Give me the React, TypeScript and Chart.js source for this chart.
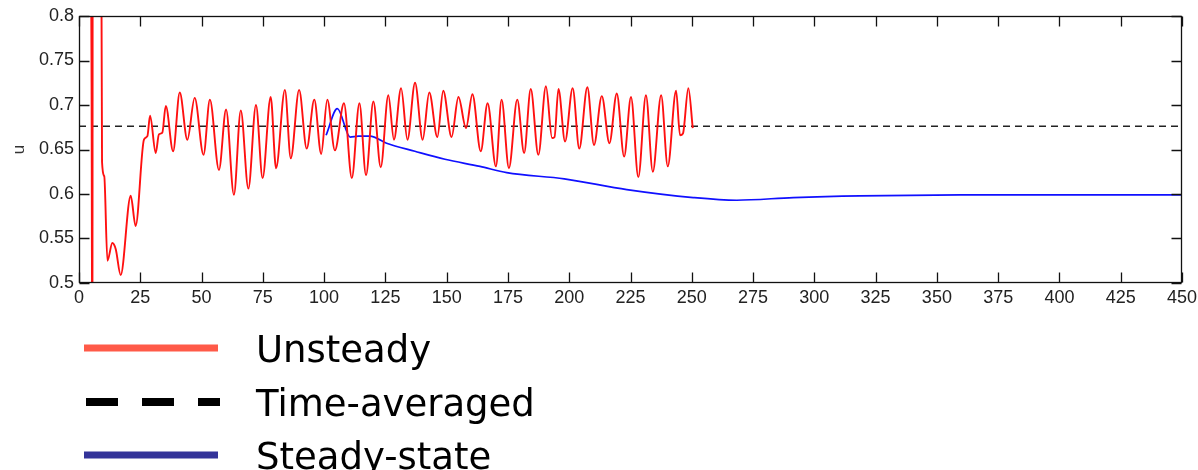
import React, { useEffect, useRef } from "react";
import { Chart, registerables } from "chart.js";

Chart.register(...registerables);

// ---- data ----
const unsteadyT = [
  4.2, 5.1, 5.5, 5.6, 8.7, 9.4, 10.3, 11.6, 13.6, 15.0, 17.0, 21.1, 23.1, 26.5, 27.9, 29.0,
  31.3, 32.6, 34.0, 35.4, 38.4, 41.1, 44.2, 47.2, 50.8, 53.4, 57.1, 60.0, 63.2, 66.0,
  69.1, 72.2, 74.9, 78.2, 80.4, 84.0, 86.4, 89.8, 92.9, 96.0, 98.8, 101.3, 104.4, 108.1,
  111.3, 114.4, 117.1, 120.1, 123.1, 126.2, 128.5, 131.4, 134.0, 137.1, 140.2, 142.9,
  146.2, 148.6, 152.0, 154.8, 157.9, 160.5, 163.9, 166.7, 170.1, 172.4, 175.4, 178.8,
  181.6, 184.3, 187.4, 190.5, 193.0, 194.0, 195.6, 198.3, 201.4, 204.1, 207.4, 210.1,
  213.3, 216.4, 219.4, 222.4, 225.2, 228.2, 231.3, 234.1, 237.5, 240.2, 243.6, 245.2,
  246.4, 248.6, 250.4,
];
const unsteadyU = [
  1.0, 0.75, 0.3, 1.2, 1.2, 0.636, 0.62, 0.525, 0.545, 0.538, 0.509, 0.598, 0.564, 0.661, 0.665, 0.688,
  0.646, 0.667, 0.669, 0.699, 0.648, 0.714, 0.661, 0.708, 0.644, 0.706, 0.627, 0.695, 0.599, 0.694,
  0.606, 0.7, 0.618, 0.709, 0.629, 0.717, 0.64, 0.717, 0.651, 0.706, 0.645, 0.706, 0.649, 0.702,
  0.618, 0.702, 0.621, 0.704, 0.63, 0.711, 0.661, 0.719, 0.661, 0.725, 0.661, 0.714,
  0.664, 0.716, 0.664, 0.709, 0.674, 0.712, 0.648, 0.702, 0.631, 0.706, 0.629, 0.706,
  0.646, 0.718, 0.644, 0.721, 0.663, 0.664, 0.718, 0.659, 0.719, 0.651, 0.72, 0.655,
  0.71, 0.657, 0.713, 0.642, 0.709, 0.619, 0.711, 0.625, 0.711, 0.631, 0.716, 0.666,
  0.668, 0.719, 0.674,
];

const steadyT = [100.8, 105.4, 110.6, 114, 118.7, 125.5, 137, 149.3, 163.6, 174.5, 198, 223.5, 250.6, 268.3, 291.4, 318.6, 359.5, 400, 450];
const steadyU = [0.666, 0.696, 0.664, 0.665, 0.665, 0.657, 0.648, 0.639, 0.631, 0.624, 0.617, 0.605, 0.596, 0.593, 0.596, 0.598, 0.599, 0.599, 0.599];

const averageT = [0, 450];
const averageU = [0.676, 0.676];

const xTicks = [0, 25, 50, 75, 100, 125, 150, 175, 200, 225, 250, 275, 300, 325, 350, 375, 400, 425, 450];
const xTickLabels = ["0", "25", "50", "75", "100", "125", "150", "175", "200", "225", "250", "275", "300", "325", "350", "375", "400", "425", "450"];
const yTicks = [0.5, 0.55, 0.6, 0.65, 0.7, 0.75, 0.8];
const yTickLabels = ["0.5", "0.55", "0.6", "0.65", "0.7", "0.75", "0.8"];

const legendLabels = ["Unsteady", "Time-averaged", "Steady-state"];
const legendColors = ["#ff5a48", "#000000", "#333399"];

const zip = (t: number[], u: number[]) => t.map((x, i) => ({ x, y: u[i] }));

const framePlugin = {
  id: "frame",
  afterDatasetsDraw(chart: any) {
    const { ctx, chartArea, scales } = chart;
    const L = Math.round(chartArea.left) + 0.5;
    const R = Math.round(chartArea.right) - 0.5;
    const T = Math.round(chartArea.top) + 0.5;
    const B = Math.round(chartArea.bottom) - 0.5;
    const len = 10;
    ctx.save();
    ctx.strokeStyle = "#111";
    ctx.lineWidth = 1.3;
    ctx.setLineDash([]);
    ctx.strokeRect(L, T, R - L, B - T);
    ctx.beginPath();
    for (const v of xTicks) {
      const px = Math.round(scales.x.getPixelForValue(v)) + 0.5;
      ctx.moveTo(px, B);
      ctx.lineTo(px, B - len);
      ctx.moveTo(px, T);
      ctx.lineTo(px, T + len);
    }
    for (const v of yTicks) {
      const py = Math.round(scales.y.getPixelForValue(v)) + 0.5;
      ctx.moveTo(L, py);
      ctx.lineTo(L + len, py);
      ctx.moveTo(R, py);
      ctx.lineTo(R - len, py);
    }
    ctx.stroke();
    ctx.restore();
  },
};

const legendPlugin = {
  id: "bigLegend",
  afterDraw(chart: any) {
    const { ctx } = chart;
    const rows = [348, 402, 455];
    ctx.save();
    legendLabels.forEach((label, i) => {
      const y = rows[i];
      ctx.beginPath();
      ctx.strokeStyle = legendColors[i];
      ctx.lineCap = "butt";
      if (i === 1) {
        ctx.lineWidth = 8;
        ctx.setLineDash([32, 24]);
        ctx.moveTo(86, y);
        ctx.lineTo(220, y);
      } else {
        ctx.lineWidth = 7;
        ctx.setLineDash([]);
        ctx.moveTo(84, y);
        ctx.lineTo(218, y);
      }
      ctx.stroke();
      ctx.setLineDash([]);
      ctx.fillStyle = "#000";
      ctx.font = "37px 'DejaVu Sans', sans-serif";
      ctx.textAlign = "left";
      ctx.textBaseline = "alphabetic";
      ctx.fillText(label, 256, y + 14);
    });
    ctx.restore();
  },
};

export default function App() {
  const ref = useRef<HTMLCanvasElement | null>(null);
  useEffect(() => {
    document.body.style.margin = "0";
    const canvas = ref.current;
    if (!canvas) return;
    Chart.defaults.font.family = "'Liberation Sans', Arial, sans-serif";
    Chart.defaults.color = "#222";
    const chart = new Chart(canvas, {
      type: "line",
      data: {
        datasets: [
          {
            label: legendLabels[0],
            data: zip(unsteadyT, unsteadyU),
            borderColor: "#ff1010",
            borderWidth: 1.9,
            pointRadius: 0,
            cubicInterpolationMode: "monotone",
            clip: 0,
            fill: false,
          },
          {
            label: legendLabels[1],
            data: zip(averageT, averageU),
            borderColor: "#222222",
            borderWidth: 1.5,
            borderDash: [7, 5],
            pointRadius: 0,
            clip: 0,
            fill: false,
          },
          {
            label: legendLabels[2],
            data: zip(steadyT, steadyU),
            borderColor: "#1010ff",
            borderWidth: 1.7,
            pointRadius: 0,
            cubicInterpolationMode: "monotone",
            clip: 0,
            fill: false,
          },
        ],
      },
      options: {
        responsive: false,
        animation: false,
        devicePixelRatio: 1,
        layout: { padding: { left: 0, right: 0, top: 16, bottom: 157 } },
        plugins: { legend: { display: false }, tooltip: { enabled: false } },
        scales: {
          x: {
            type: "linear",
            min: 0,
            max: 450,
            grid: { display: false, drawTicks: false },
            border: { display: false },
            afterBuildTicks: (s: any) => {
              s.ticks = xTicks.map((v) => ({ value: v }));
            },
            afterFit: (s: any) => {
              s.height = 30;
              s.paddingRight = 16;
            },
            ticks: {
              autoSkip: false,
              maxRotation: 0,
              padding: 4,
              font: { size: 18 },
              callback: (_v: any, i: number) => xTickLabels[i],
            },
          },
          y: {
            type: "linear",
            min: 0.5,
            max: 0.8,
            grid: { display: false, drawTicks: false },
            border: { display: false },
            afterBuildTicks: (s: any) => {
              s.ticks = yTicks.map((v) => ({ value: v }));
            },
            afterFit: (s: any) => {
              s.width = 79;
            },
            title: {
              display: true,
              text: "u",
              font: { size: 17 },
              color: "#333",
              padding: { top: 9, bottom: 0 },
            },
            ticks: {
              autoSkip: false,
              padding: 5,
              font: { size: 18 },
              callback: (_v: any, i: number) => yTickLabels[i],
            },
          },
        },
      },
      plugins: [framePlugin, legendPlugin],
    });
    return () => chart.destroy();
  }, []);
  return (
    <div style={{ width: 1198, height: 470 }}>
      <canvas ref={ref} width={1198} height={470} style={{ display: "block" }} />
    </div>
  );
}
